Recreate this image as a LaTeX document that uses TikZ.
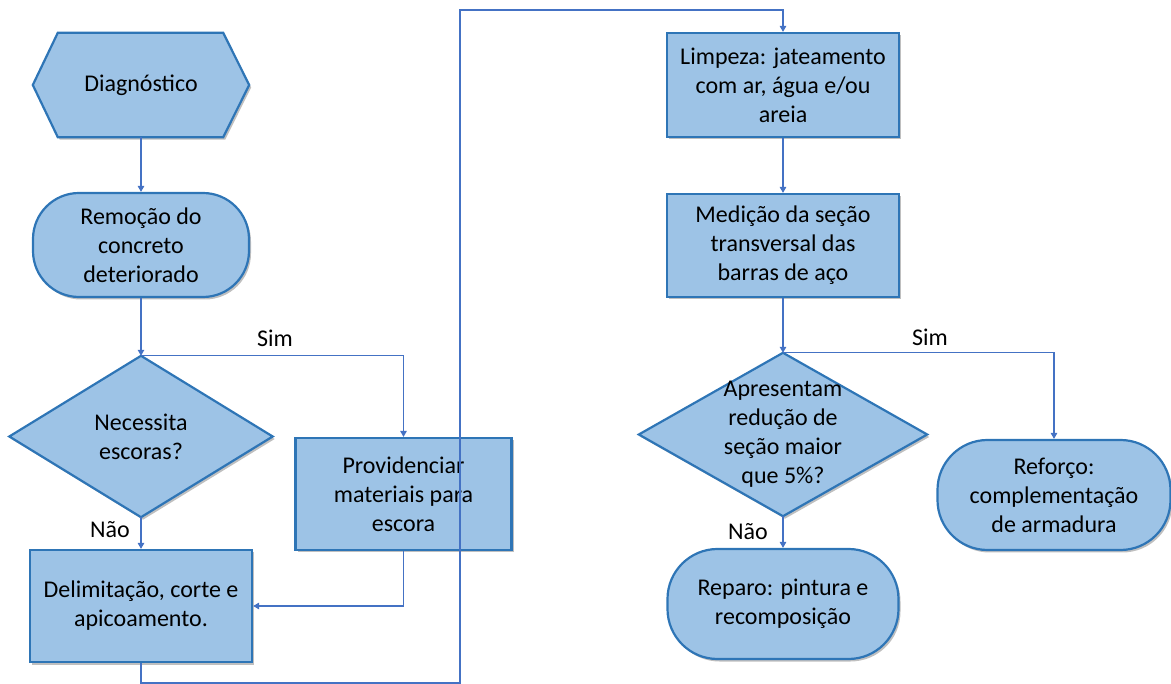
\documentclass[tikz,border=0pt]{standalone}
\usepackage{fontspec}
\setmainfont{Carlito}
\usetikzlibrary{arrows.meta,backgrounds,shadows}
\definecolor{boxfill}{HTML}{9DC3E6}
\definecolor{boxline}{HTML}{2E75B6}
\definecolor{connc}{HTML}{4472C4}
\tikzset{
  shp/.style={fill=boxfill, draw=boxline, line width=2.2pt,
    drop shadow={shadow xshift=2pt, shadow yshift=-2.5pt, opacity=0.25, fill=black}},
  rectbox/.style={shp, rectangle, align=center, inner sep=0pt},
  stadbox/.style={shp, rectangle, rounded corners=46pt, align=center, inner sep=0pt},
  textonly/.style={rectangle, align=center, inner sep=0pt},
  connector/.style={draw=connc, line width=1.3pt, -{Triangle[length=6pt,width=6.5pt]}},
  plainline/.style={draw=connc, line width=1.3pt},
  lbl/.style={inner sep=0pt, text=black}
}
\begin{document}
\begin{tikzpicture}[x=1pt,y=-1pt, font=\fontsize{24}{29}\selectfont]
\useasboundingbox (0,0) rectangle (1171,684);

% left column
\node[textonly, minimum width=216pt, minimum height=104pt] (diag) at (141,85) {Diagnóstico};
\node[stadbox, minimum width=216pt, minimum height=104pt] (remo) at (141,245) {Remoção do\\concreto\\deteriorado};
\node[textonly, minimum width=263pt, minimum height=161pt] (nec) at (141,436.5) {Necessita\\escoras?};
\node[rectbox, minimum width=216pt, minimum height=112pt] (prov) at (403.5,494) {Providenciar\\materiais para\\escora};
\node[rectbox, minimum width=222pt, minimum height=112pt] (delim) at (141,606) {Delimitação, corte e\\apicoamento.};

% right column
\node[rectbox, minimum width=232pt, minimum height=104pt] (limp) at (783,85) {Limpeza: jateamento\\com ar, água e/ou\\areia};
\node[rectbox, minimum width=232pt, minimum height=103pt] (med) at (783,245.5) {Medição da seção\\transversal das\\barras de aço};
\node[textonly, minimum width=288pt, minimum height=163pt] (apr) at (783,434.5) {Apresentam\\redução de\\seção maior\\que 5\%?};
\node[stadbox, minimum width=233pt, minimum height=110pt, rounded corners=50pt] (ref) at (1054,495) {Reforço:\\complementação\\de armadura};
\node[stadbox, minimum width=231pt, minimum height=110pt, rounded corners=50pt] (rep) at (783,604) {Reparo: pintura e\\recomposição};

% hand-drawn outlines for hexagon and diamonds
\begin{scope}[on background layer]
  \path[shp] (diag.west) -- ([xshift=25pt]diag.north west) -- ([xshift=-26pt]diag.north east)
     -- (diag.east) -- ([xshift=-26pt]diag.south east) -- ([xshift=25pt]diag.south west) -- cycle;
  \path[shp] (nec.north) -- (nec.east) -- (nec.south) -- (nec.west) -- cycle;
  \path[shp] (apr.north) -- (apr.east) -- (apr.south) -- (apr.west) -- cycle;
\end{scope}

% labels
\node[lbl] (sim1) at (275,338) {Sim};
\node[lbl] (nao1) at (110,530) {Não};
\node[lbl] (sim2) at (930,337) {Sim};
\node[lbl] (nao2) at (748,532) {Não};

% connectors
\coordinate (b1) at (141,683);
\coordinate (b2) at (460,683);
\coordinate (t1) at (460,10);

\draw[connector] (diag.south) -- (remo.north);
\draw[connector] (remo.south) -- (nec.north);
\draw[connector] (nec.north) -| (prov.north);
\draw[connector] (nec.south) -- (delim.north);
\draw[connector] (prov.south) |- (delim.east);
\draw[connector] (delim.south) -- (b1) -- (b2) -- (t1) -| (limp.north);
\draw[connector] (limp.south) -- (med.north);
\draw[connector] (med.south) -- (apr.north);
\draw[connector] (apr.north) -| (ref.north);
\draw[connector] (apr.south) -- (rep.north);
\end{tikzpicture}
\end{document}
